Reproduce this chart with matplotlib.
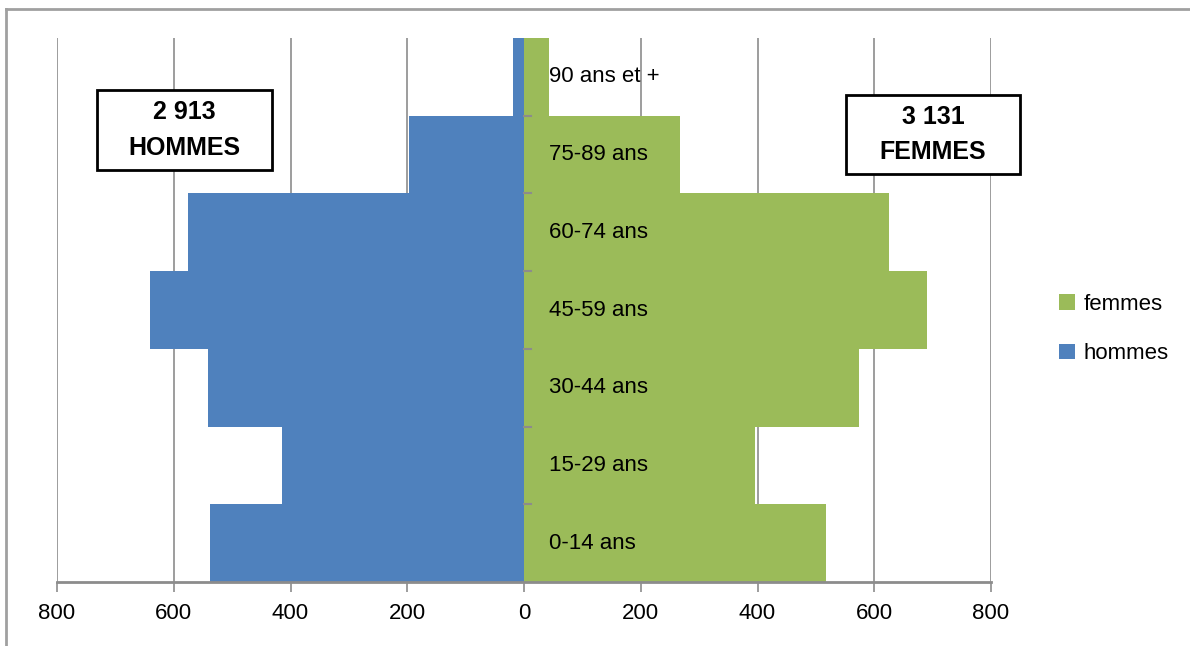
import matplotlib
matplotlib.use("Agg")
import matplotlib.pyplot as plt
from matplotlib.lines import Line2D
from matplotlib.patches import Rectangle

plt.rcParams["font.family"] = ["Liberation Sans Narrow", "Liberation Sans", "DejaVu Sans"]

BLUE, GREEN, GRID = "#4F81BD", "#9BBB59", "#8C8C8C"

ages = ["0-14 ans", "15-29 ans", "30-44 ans", "45-59 ans", "60-74 ans", "75-89 ans", "90 ans et +"]
hommes = [538, 414, 541, 640, 575, 197, 19]
femmes = [517, 396, 574, 690, 625, 267, 42]
ticks = [-800, -600, -400, -200, 0, 200, 400, 600, 800]
tick_labels = ["800", "600", "400", "200", "0", "200", "400", "600", "800"]

W, H = 1190, 646
fig = plt.figure(figsize=(11.9, 6.46), dpi=100)
ax = fig.add_axes([57/W, 1-582/H, (991-57)/W, (582-38)/H])

y = list(range(len(ages)))
ax.barh(y, femmes, height=1.0, color=GREEN, label="femmes", zorder=2)
ax.barh(y, [-v for v in hommes], height=1.0, color=BLUE, label="hommes", zorder=2)

ax.set_xlim(-800, 800)
ax.set_ylim(-0.5, len(ages) - 0.5)
ax.set_xticks(ticks)
ax.set_xticklabels(tick_labels, fontsize=16)
ax.set_yticks([])
ax.grid(axis="x", color=GRID, lw=1.2, zorder=0)
for s in ["top", "right", "left"]:
    ax.spines[s].set_visible(False)
ax.spines["bottom"].set_color(GRID)
ax.spines["bottom"].set_linewidth(2)
ax.tick_params(axis="x", direction="out", length=7, width=1.2, color=GRID, pad=8)

# separators on the centre axis
for k in range(1, len(ages)):
    ax.plot([0, 12], [k - 0.5, k - 0.5], color=GRID, lw=1.5, zorder=3)

for yi, lab in zip(y, ages):
    ax.text(42, yi, lab, va="center", ha="left", fontsize=16, color="black", zorder=4)

# total boxes
for (x0, y0, x1, y1), txt in [((97, 90, 272, 170), "2 913\nHOMMES"),
                              ((846, 95, 1020, 174), "3 131\nFEMMES")]:
    fig.add_artist(Rectangle((x0/W, 1-y1/H), (x1-x0)/W, (y1-y0)/H, transform=fig.transFigure,
                             fc="white", ec="black", lw=2, zorder=5))
    fig.text((x0+x1)/2/W, 1-(y0+y1)/2/H, txt, ha="center", va="center", fontsize=18,
             fontweight="bold", linespacing=1.6, zorder=6)

fig.legend(loc="center left", bbox_to_anchor=(1039/W, 1-329/H), frameon=False,
           fontsize=16, handlelength=0.7, handleheight=0.7, handletextpad=0.4,
           labelspacing=1.3)

# outer chart frame (left and top edges visible)
fig.add_artist(Line2D([6/W, 6/W], [0, 1-9/H], color="#A0A0A0", lw=2))
fig.add_artist(Line2D([6/W, 1], [1-9/H, 1-9/H], color="#A0A0A0", lw=2))

fig.savefig("out.png", dpi=100)
